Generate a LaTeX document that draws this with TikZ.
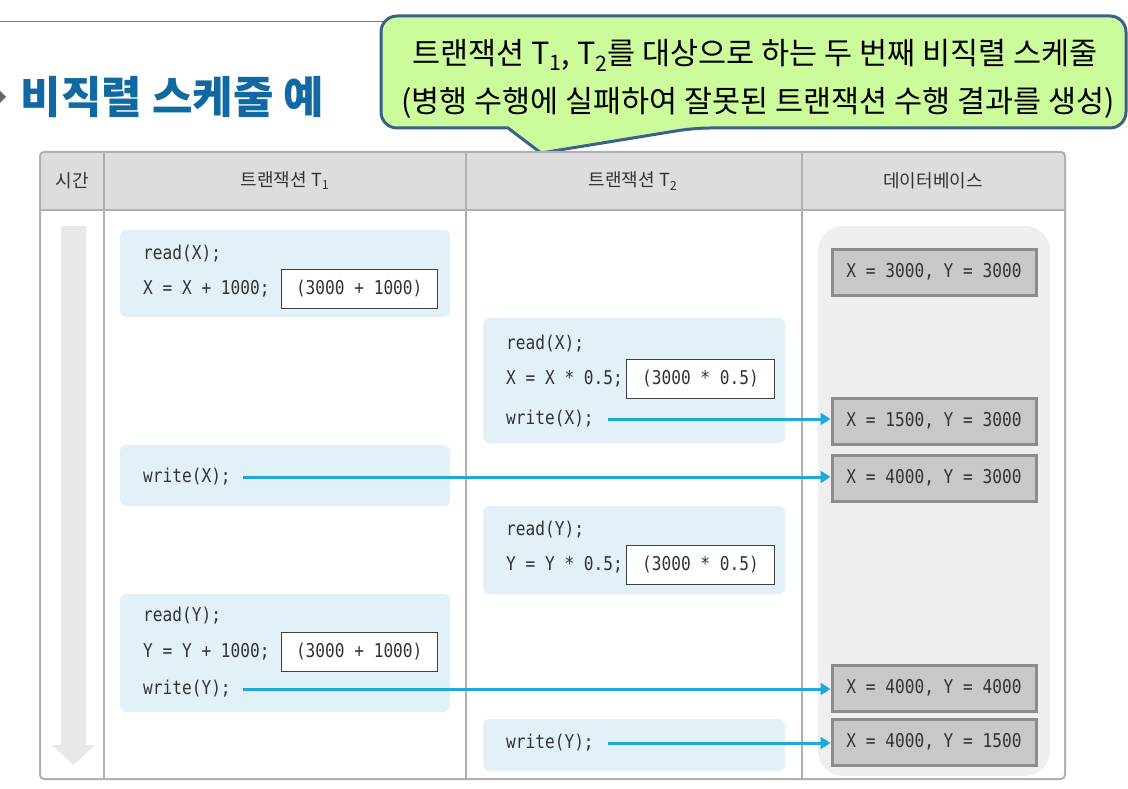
\documentclass[tikz,border=0pt]{standalone}
\usepackage{fontspec}
\usepackage{graphicx}
\usetikzlibrary{arrows.meta,positioning}
\setmainfont{Noto Sans CJK KR}
\newfontfamily\codefont[FakeStretch=0.85]{DejaVu Sans Mono}
\definecolor{titleblue}{HTML}{1069A0}
\definecolor{rulegray}{HTML}{B0B0B2}
\definecolor{hdrgray}{HTML}{DDDDDF}
\definecolor{blk}{HTML}{E2F0F8}
\definecolor{dbback}{HTML}{EFEFF1}
\definecolor{dbfill}{HTML}{C8C8C8}
\definecolor{dbedge}{HTML}{8C8C8C}
\definecolor{wline}{HTML}{1FA9DA}
\definecolor{calloutfill}{HTML}{CCFB9C}
\definecolor{calloutedge}{HTML}{3C5F8C}
\definecolor{timegray}{HTML}{E8E8EA}

\begin{document}
\begin{tikzpicture}[x=1pt,y=-1pt,
  code/.style={anchor=west,inner sep=0pt,text=black!80,font=\codefont\fontsize{19}{22}\selectfont},
  calcbox/.style={draw=black!75,fill=white,line width=0.8pt,minimum height=39pt,inner sep=0pt,text=black!80,font=\codefont\fontsize{19}{22}\selectfont},
  dbbox/.style={draw=dbedge,fill=dbfill,line width=3pt,minimum width=204pt,minimum height=46pt,inner sep=0pt,text=black!80,font=\codefont\fontsize{19}{22}\selectfont},
  hdr/.style={text=black!80,font=\fontsize{18}{20}\selectfont},
  wr/.style={wline,line width=3pt,-{Triangle[length=10pt,width=12pt]}},
  blkbox/.style={fill=blk,rounded corners=6pt}]
  \useasboundingbox (0,0) rectangle (1128,789);

  \draw[calloutedge!80,line width=1pt] (0,22) -- (390,22);
  \fill[black!60] (0,91) -- (6,97) -- (0,103) -- cycle;
  \node[anchor=west,text=titleblue,font=\bfseries\fontsize{44}{50}\selectfont] (title) at (17,97) {비직렬 스케줄 예};

  \draw[calloutedge,fill=calloutfill,line width=3pt,rounded corners=16pt]
    (381,16) -- (1126,16) -- (1126,128) -- (694,128) [sharp corners] -- (541,153) -- (508,128)
    [rounded corners=16pt] -- (381,128) -- cycle;
  \node[font=\fontsize{30.5}{36}\selectfont] (note1) at (755,55) {트랜잭션 T\textsubscript{1}, T\textsubscript{2}를 대상으로 하는 두 번째 비직렬 스케줄};
  \node[font=\fontsize{30.5}{36}\selectfont] (note2) at (758,103) {(병행 수행에 실패하여 잘못된 트랜잭션 수행 결과를 생성)};

  \fill[hdrgray,rounded corners=4pt] (40,152) rectangle (1065,210);
  \draw[rulegray,line width=2pt,rounded corners=4pt] (40,152) rectangle (1065,779);
  \draw[rulegray,line width=2pt] (40,210) -- (1065,210);
  \foreach \x in {104,466,802}
    \draw[rulegray,line width=2pt] (\x,152) -- (\x,779);
  \node[hdr] (hTime) at (72,181) {시간};
  \node[hdr] (hT1) at (285,181) {트랜잭션 T\textsubscript{1}};
  \node[hdr] (hT2) at (633,181) {트랜잭션 T\textsubscript{2}};
  \node[hdr] (hDB) at (933,181) {데이터베이스};

  \fill[timegray] (61,226) -- (86,226) -- (86,745) -- (95,745) -- (73.5,765) -- (52,745) -- (61,745) -- cycle;
  \fill[dbback,rounded corners=25pt] (818,226) rectangle (1050,776);

  \fill[blkbox] (120,230) rectangle (450,317);
  \fill[blkbox] (483,318) rectangle (785,443);
  \fill[blkbox] (120,445) rectangle (450,506);
  \fill[blkbox] (483,506) rectangle (785,594);
  \fill[blkbox] (120,594) rectangle (450,712);
  \fill[blkbox] (483,719) rectangle (785,771);

  \node[code] (r1) at (143,254) {read(X);};
  \node[code] (a1) at (143,289) {X = X + 1000;};
  \node[calcbox,minimum width=156pt,right=11pt of a1] (c1) {(3000 + 1000)};

  \node[code] (r2) at (506,344) {read(X);};
  \node[code] (a2) at (506,379) {X = X * 0.5;};
  \node[calcbox,minimum width=148pt,right=3pt of a2] (c2) {(3000 * 0.5)};
  \node[code] (w2) at (506,419) {write(X);};

  \node[code] (w1) at (143,477) {write(X);};

  \node[code] (r3) at (506,530) {read(Y);};
  \node[code] (a3) at (506,565) {Y = Y * 0.5;};
  \node[calcbox,minimum width=148pt,right=3pt of a3] (c3) {(3000 * 0.5)};

  \node[code] (r4) at (143,616) {read(Y);};
  \node[code] (a4) at (143,652) {Y = Y + 1000;};
  \node[calcbox,minimum width=156pt,right=11pt of a4] (c4) {(3000 + 1000)};
  \node[code] (w3) at (143,689) {write(Y);};

  \node[code] (w4) at (506,743) {write(Y);};

  \node[dbbox] (db1) at (934,272) {X = 3000, Y = 3000};
  \node[dbbox] (db2) at (934,421) {X = 1500, Y = 3000};
  \node[dbbox] (db3) at (934,478) {X = 4000, Y = 3000};
  \node[dbbox] (db4) at (934,688) {X = 4000, Y = 4000};
  \node[dbbox] (db5) at (934,742) {X = 4000, Y = 1500};

  \draw[wr] ([xshift=14pt]w2.east) -- (w2.east -| db2.west);
  \draw[wr] ([xshift=12pt]w1.east) -- (w1.east -| db3.west);
  \draw[wr] ([xshift=12pt]w3.east) -- (w3.east -| db4.west);
  \draw[wr] ([xshift=14pt]w4.east) -- (w4.east -| db5.west);
\end{tikzpicture}
\end{document}
